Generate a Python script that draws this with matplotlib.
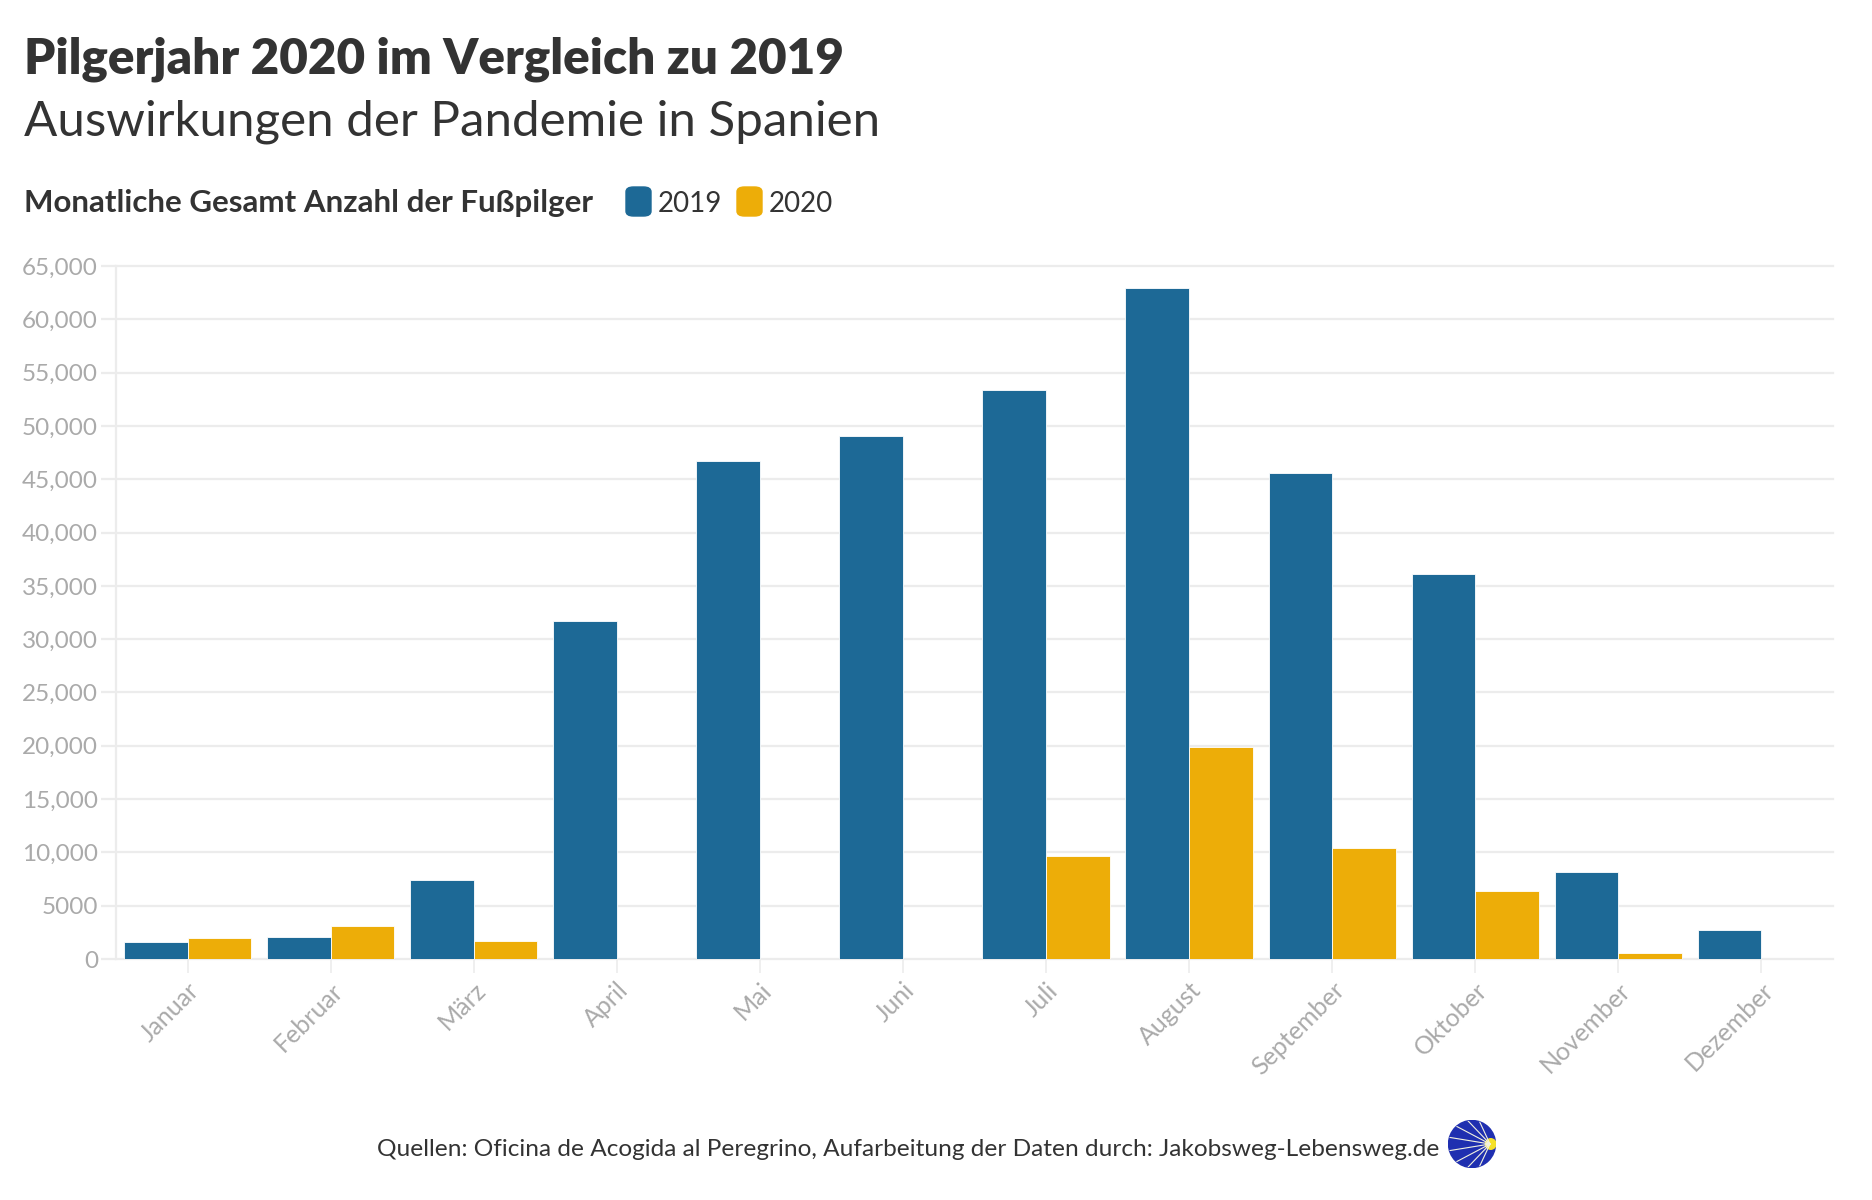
import numpy as np
import matplotlib.pyplot as plt
from matplotlib.patches import FancyBboxPatch, Circle

plt.rcParams['font.family'] = ['Lato', 'DejaVu Sans']

months = ['Januar', 'Februar', 'März', 'April', 'Mai', 'Juni', 'Juli',
          'August', 'September', 'Oktober', 'November', 'Dezember']
pilger_2019 = [1600, 2100, 7450, 31700, 46700, 49100, 53350, 62900, 45600, 36100, 8200, 2700]
pilger_2020 = [1950, 3050, 1700, 0, 0, 0, 9700, 19850, 10400, 6400, 550, 0]
series_names = ['2019', '2020']
colors = ['#1d6996', '#edad08']
y_ticks = [0, 5000, 10000, 15000, 20000, 25000, 30000, 35000, 40000,
           45000, 50000, 55000, 60000, 65000]
y_tick_labels = ['0', '5000', '10,000', '15,000', '20,000', '25,000', '30,000',
                 '35,000', '40,000', '45,000', '50,000', '55,000', '60,000', '65,000']

W, H = 1872, 1200
fig = plt.figure(figsize=(W / 100, H / 100), dpi=100)


def fx(px):
    return px / W


def fy(py):
    return 1 - py / H


ax = fig.add_axes([fx(116), fy(959), fx(1833) - fx(116), fy(266) - fy(959)])

x = np.arange(len(months))
bw = 0.445
ax.bar(x - bw / 2, pilger_2019, bw, color=colors[0], edgecolor='white', linewidth=0.6, zorder=3)
ax.bar(x + bw / 2, pilger_2020, bw, color=colors[1], edgecolor='white', linewidth=0.6, zorder=3)

ax.set_xlim(-0.5, len(months) - 0.5)
ax.set_ylim(0, 65000)
ax.set_yticks(y_ticks)
ax.set_yticklabels(y_tick_labels)
ax.set_xticks(x)
ax.set_xticklabels(months, rotation=45, ha='right', va='top', rotation_mode='anchor')

grid_c = '#ececec'
ax.grid(axis='y', color=grid_c, linewidth=1.6, zorder=0)
ax.set_axisbelow(True)
for s in ['top', 'right', 'bottom']:
    ax.spines[s].set_visible(False)
ax.spines['left'].set_color(grid_c)
ax.spines['left'].set_linewidth(1.6)
ax.tick_params(axis='y', length=11, width=1.6, color=grid_c, labelcolor='#aaaaaa',
               labelsize=17.5, pad=2)
ax.tick_params(axis='x', length=10, width=1.2, color=grid_c, labelcolor='#aaaaaa',
               labelsize=18, pad=4)
for gl in ax.get_ygridlines():
    gl.set_clip_on(False)

text_c = '#333333'
fig.text(fx(24), fy(73), 'Pilgerjahr 2020 im Vergleich zu 2019', fontsize=35.6,
         fontweight='heavy', color=text_c, va='baseline')
fig.text(fx(24), fy(135), 'Auswirkungen der Pandemie in Spanien', fontsize=35.5,
         color=text_c, va='baseline')
fig.text(fx(24), fy(212), 'Monatliche Gesamt Anzahl der Fußpilger', fontsize=22.5,
         fontweight='bold', color=text_c, va='baseline')

# legend
leg_x = [626, 737]
for lx, name, c in zip(leg_x, series_names, colors):
    fig.patches.append(FancyBboxPatch((fx(lx), fy(216)), fx(25), fy(187) - fy(216),
                                      boxstyle='round,pad=0,rounding_size=0.004',
                                      transform=fig.transFigure, color=c))
    fig.text(fx(lx + 32), fy(212), name, fontsize=20, color=text_c, va='baseline')

# footer
fig.text(fx(1439), fy(1150), 'Quellen: Oficina de Acogida al Peregrino, Aufarbeitung der Daten durch: Jakobsweg-Lebensweg.de',
         fontsize=17.6, color=text_c, ha='right', va='center')

# logo (Jakobsmuschel)
lax = fig.add_axes([fx(1448), fy(1168), fx(48), fy(1120) - fy(1168)])
lax.set_xlim(-1, 1)
lax.set_ylim(-1, 1)
lax.axis('off')
lax.add_patch(Circle((0, 0), 0.98, color='#1f2fb0'))
for a in np.linspace(115, 245, 8):
    r = np.radians(a)
    lax.plot([0.75, 0.75 + 1.7 * np.cos(r)], [0, 1.7 * np.sin(r)], color='#f2f2e0', lw=0.8,
             clip_path=lax.patches[0])
lax.add_patch(Circle((0.78, 0), 0.22, color='#f5e12a'))

fig.savefig('out.png', dpi=100)
